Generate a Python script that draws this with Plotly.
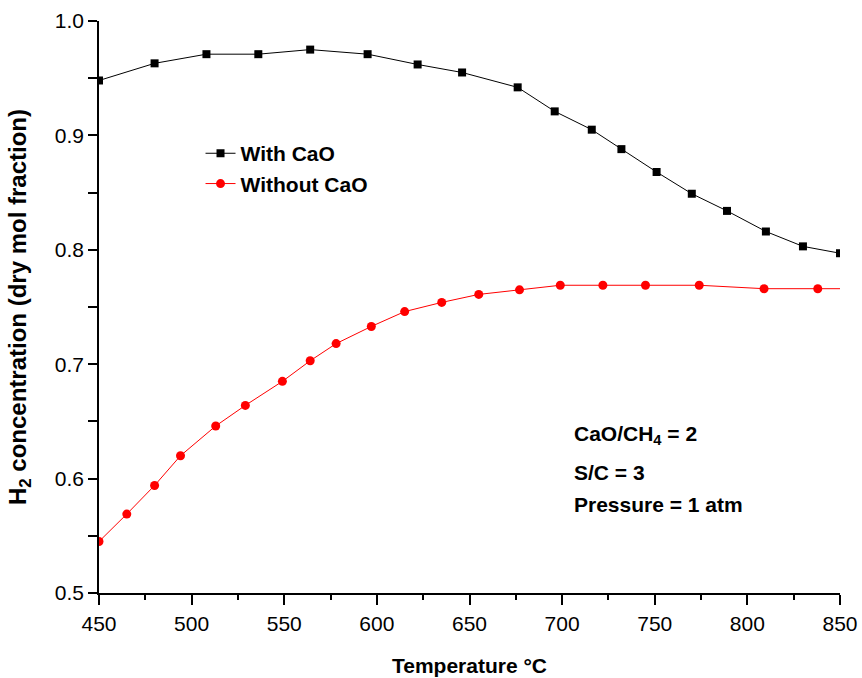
import plotly.graph_objects as go

# With CaO (black squares)
t_with = [450, 480, 508, 536, 564, 595, 622, 646, 676, 696, 716, 732, 751, 770, 789, 810, 830, 850]
h2_with = [0.948, 0.963, 0.971, 0.971, 0.975, 0.971, 0.962, 0.955, 0.942, 0.921, 0.905, 0.888,
           0.868, 0.849, 0.834, 0.816, 0.803, 0.797]

# Without CaO (red circles)
t_without = [450, 465, 480, 494, 513, 529, 549, 564, 578, 597, 615, 635, 655, 677, 699, 722,
             745, 774, 809, 838, 866]
h2_without = [0.545, 0.569, 0.594, 0.620, 0.646, 0.664, 0.685, 0.703, 0.718, 0.733, 0.746, 0.754,
              0.761, 0.765, 0.769, 0.769, 0.769, 0.769, 0.766, 0.766, 0.766]

x_ticks = [450, 500, 550, 600, 650, 700, 750, 800, 850]
y_ticks = [0.5, 0.6, 0.7, 0.8, 0.9, 1.0]

FONT = "Liberation Sans, Arial, sans-serif"

fig = go.Figure()
fig.add_trace(go.Scatter(
    x=t_with, y=h2_with, mode="lines+markers", name="<b>With CaO</b>",
    line=dict(color="black", width=1),
    marker=dict(symbol="square", size=8, color="black"),
    legendgroup="a",
))
fig.add_trace(go.Scatter(
    x=t_without, y=h2_without, mode="lines+markers", name="<b>Without CaO</b>",
    line=dict(color="#ff0000", width=1),
    marker=dict(symbol="circle", size=9, color="#ff0000"),
    legendgroup="b",
))

fig.update_layout(
    width=862, height=678,
    margin=dict(l=99, r=22, t=21, b=85),
    paper_bgcolor="white", plot_bgcolor="white",
    font=dict(family=FONT, color="black", size=21),
    showlegend=True,
    legend=dict(x=0.137, y=0.804, xanchor="left", yanchor="top",
                font=dict(size=21, family=FONT), tracegroupgap=0,
                bgcolor="rgba(0,0,0,0)"),
)

fig.update_xaxes(
    range=[450, 850], tickvals=x_ticks, ticks="outside", ticklen=10, tickwidth=1.5,
    tickcolor="black", showline=True, linecolor="black", linewidth=1.5,
    showgrid=False, zeroline=False, tickfont=dict(size=21), ticklabelstandoff=1,
    minor=dict(dtick=25, tick0=450, ticks="outside", ticklen=5, tickwidth=1.5,
               tickcolor="black", showgrid=False),
    title=dict(text="<b>Temperature °C</b>", font=dict(size=21), standoff=24),
    automargin=False,
)
fig.update_yaxes(
    range=[0.5, 1.0], tickvals=y_ticks, tickformat=".1f", ticks="outside", ticklen=9,
    tickwidth=1.5, tickcolor="black", showline=True, linecolor="black", linewidth=1.5,
    showgrid=False, zeroline=False, tickfont=dict(size=21),
    minor=dict(dtick=0.05, tick0=0.5, ticks="outside", ticklen=9, tickwidth=1.5,
               tickcolor="black", showgrid=False),
    title=dict(text="<b>H<sub>2</sub> concentration (dry mol fraction)</b>",
               font=dict(size=24), standoff=21),
    automargin=False,
)

notes = ["<b>CaO/CH<sub>4</sub> = 2</b>", "<b>S/C = 3</b>", "<b>Pressure = 1 atm</b>"]
note_y = [0.2762, 0.2100, 0.1545]
for txt, yy in zip(notes, note_y):
    fig.add_annotation(x=0.639, y=yy, xref="paper", yref="paper", text=txt,
                       showarrow=False, xanchor="left", yanchor="middle",
                       font=dict(size=21, family=FONT))

fig.write_html("out.html")
